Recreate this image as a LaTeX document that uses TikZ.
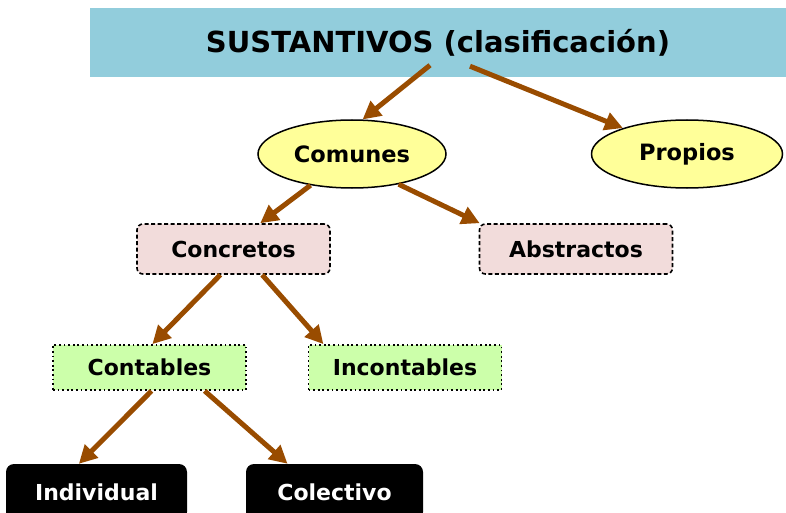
\documentclass[tikz,border=0pt]{standalone}
\usepackage{fontspec}
\setmainfont{DejaVu Sans}
\usetikzlibrary{arrows.meta,shapes.geometric}

\definecolor{celeste}{HTML}{92CDDC}
\definecolor{amarillo}{HTML}{FFFF99}
\definecolor{rosa}{HTML}{F2DCDB}
\definecolor{verde}{HTML}{CCFFAA}
\definecolor{marron}{HTML}{994C00}

\begin{document}
\begin{tikzpicture}[x=1pt,y=1pt,
  titulo/.style={fill=celeste,minimum width=696pt,minimum height=69pt,inner sep=0pt,
    font=\fontsize{29}{34}\selectfont\bfseries},
  elipse/.style={ellipse,draw=black,line width=1.5pt,fill=amarillo,minimum width=188pt,
    minimum height=68pt,inner sep=0pt,font=\fontsize{22.5}{26}\selectfont\bfseries},
  cajarosa/.style={rectangle,rounded corners=6pt,draw=black,line width=1.6pt,
    dash pattern=on 4pt off 2.5pt,fill=rosa,minimum width=193pt,minimum height=50pt,
    inner sep=0pt,font=\fontsize{22}{26}\selectfont\bfseries},
  cajaverde/.style={rectangle,draw=black,line width=1.8pt,dash pattern=on 1.8pt off 2.8pt,
    fill=verde,minimum width=193pt,minimum height=45pt,inner sep=0pt,
    font=\fontsize{22}{26}\selectfont\bfseries},
  cajanegra/.style={rectangle,rounded corners=8pt,fill=black,text=white,minimum height=56pt,
    inner sep=0pt,font=\fontsize{22}{26}\selectfont\bfseries},
  flecha/.style={draw=marron,line width=5pt,-{Triangle[length=18pt,width=18pt]}}]
\useasboundingbox (0,0) rectangle (786,-513);

%Nivel 1
\node[titulo] (sust) at (438,-42.5) {\raisebox{-2pt}{SUSTANTIVOS (clasificación)}};

%Nivel 2
\node[elipse] (comunes) at (352,-154) {Comunes};
\node[elipse,minimum width=191pt] (propios) at (687,-154) {Propios};

%Nivel 3
\node[cajarosa] (concretos) at (233.5,-249) {Concretos};
\node[cajarosa] (abstractos) at (576,-249) {Abstractos};

%Nivel 4
\node[cajaverde] (contables) at (149.5,-367.5) {Contables};
\node[cajaverde] (incontables) at (405,-367.5) {Incontables};

%Nivel 5
\node[cajanegra,minimum width=181pt] (individual) at (96.5,-492) {Individual};
\node[cajanegra,minimum width=177pt] (colectivo) at (334.5,-492) {Colectivo};

%Flechas
\draw[flecha] ([shift={(-8,12)}]sust.south) -- (comunes.73);
\draw[flecha] ([shift={(32,11)}]sust.south) -- (propios.158);
\foreach \a/\b in {comunes.217/concretos.44,comunes.327/abstractos.165,
    concretos.243/contables.83,concretos.318/incontables.164,
    contables.275/individual.122,contables.337/colectivo.149}{
    \draw[flecha] (\a) -- (\b);
}
\end{tikzpicture}
\end{document}
